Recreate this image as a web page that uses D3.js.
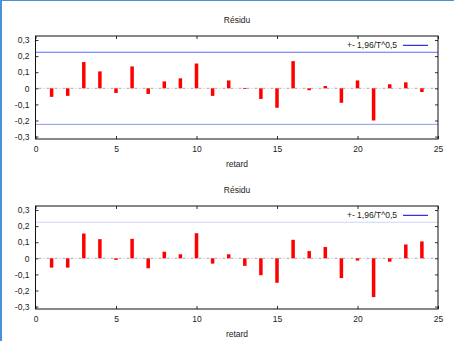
<!DOCTYPE html>
<html>
<head>
<meta charset="utf-8">
<script src="https://cdn.jsdelivr.net/npm/d3@7"></script>
<style>
  html, body { margin: 0; padding: 0; background: #fff; }
  svg { display: block; }
  text { font-family: "Liberation Sans", Arial, sans-serif; fill: #222; }
</style>
</head>
<body>
<svg id="chart" width="454" height="341"></svg>
<script>
// Lags 1..24 and residual autocorrelations for the two panels
const lags = d3.range(1, 25);
const residuA = [-0.053, -0.047, 0.163, 0.105, -0.029, 0.136, -0.035, 0.043, 0.062, 0.154,
                 -0.047, 0.049, 0.002, -0.066, -0.121, 0.169, -0.012, 0.014, -0.090, 0.049,
                 -0.200, 0.025, 0.037, -0.023];
const residuB = [-0.058, -0.058, 0.154, 0.119, -0.010, 0.121, -0.062, 0.041, 0.025, 0.156,
                 -0.033, 0.025, -0.047, -0.105, -0.152, 0.115, 0.045, 0.070, -0.123, -0.014,
                 -0.241, -0.021, 0.086, 0.105];
const bound = 0.224;               // 1.96 / sqrt(T)
const yTicks = [-0.3, -0.2, -0.1, 0, 0.1, 0.2, 0.3];
const xTicks = [0, 5, 10, 15, 20, 25];
const title = "Résidu";
const xLabel = "retard";
const legendLabel = "+- 1,96/T^0,5";

const svg = d3.select("#chart");

// page border (left and top)
svg.append("rect").attr("x", 0).attr("y", 0).attr("width", 2).attr("height", 341).attr("fill", "#4a8fd8");
svg.append("rect").attr("x", 0).attr("y", 0).attr("width", 454).attr("height", 1).attr("fill", "#4a8fd8");

const fmt = v => (v === 0 ? "0" : d3.format(".1f")(v).replace(".", ",").replace("−", "-"));

function panel(top, values, upperColor, lowerColor) {
  const left = 35.5, right = 438, h = 103;
  const x = d3.scaleLinear().domain([0, 25]).range([left, right]);
  const y = d3.scaleLinear().domain([-0.315, 0.325]).range([top + h, top]);
  const g = svg.append("g");

  // title and axis label
  g.append("text").attr("x", 237).attr("y", top - 13).attr("text-anchor", "middle")
    .attr("font-size", 8.5).text(title);
  g.append("text").attr("x", 237).attr("y", top + h + 28).attr("text-anchor", "middle")
    .attr("font-size", 8.5).text(xLabel);

  // confidence bounds
  if (upperColor) g.append("line").attr("x1", left).attr("x2", right)
    .attr("y1", y(bound)).attr("y2", y(bound)).attr("stroke", upperColor).attr("stroke-width", 1);
  if (lowerColor) g.append("line").attr("x1", left).attr("x2", right)
    .attr("y1", y(-bound)).attr("y2", y(-bound)).attr("stroke", lowerColor).attr("stroke-width", 1);

  // zero line
  g.append("line").attr("x1", left).attr("x2", right)
    .attr("y1", y(0)).attr("y2", y(0))
    .attr("stroke", "#999").attr("stroke-width", 0.8).attr("stroke-dasharray", "1,2,3,2");

  // bars
  g.selectAll("rect.bar").data(values).join("rect").attr("class", "bar")
    .attr("x", (d, i) => x(lags[i]) - 1.75)
    .attr("width", 3.5)
    .attr("y", d => y(Math.max(0, d)))
    .attr("height", d => Math.max(0.8, Math.abs(y(d) - y(0))))
    .attr("fill", "#ff0000");

  // axes with inward ticks, mirrored
  const yl = g.append("g").attr("transform", `translate(${left},0)`)
    .call(d3.axisLeft(y).tickValues(yTicks).tickSize(-3).tickPadding(6).tickFormat(fmt));
  const yr = g.append("g").attr("transform", `translate(${right},0)`)
    .call(d3.axisRight(y).tickValues(yTicks).tickSize(-3).tickFormat(""));
  const xb = g.append("g").attr("transform", `translate(0,${top + h})`)
    .call(d3.axisBottom(x).tickValues(xTicks).tickSize(-3).tickPadding(7).tickFormat(d3.format("d")));
  const xt = g.append("g").attr("transform", `translate(0,${top})`)
    .call(d3.axisTop(x).tickValues(xTicks).tickSize(-3).tickFormat(""));
  [yl, yr, xb, xt].forEach(a => {
    a.select(".domain").remove();
    a.selectAll("line").attr("stroke", "#333");
    a.selectAll("text").attr("font-size", 8.5).attr("font-family", "Liberation Sans, Arial, sans-serif").attr("fill", "#222");
  });

  // frame
  g.append("rect").attr("x", left).attr("y", top).attr("width", right - left).attr("height", h)
    .attr("fill", "none").attr("stroke", "#111").attr("stroke-width", 1);

  // legend
  g.append("text").attr("x", 397).attr("y", top + 12).attr("text-anchor", "end")
    .attr("font-size", 8.5).text(legendLabel);
  g.append("line").attr("x1", 403).attr("x2", 428).attr("y1", top + 9.3).attr("y2", top + 9.3)
    .attr("stroke", "#0000dd").attr("stroke-width", 1);
}

panel(36, residuA, "#5b6cff", "#8f97f0");
panel(206, residuB, "#cdd4fb", null);
</script>
</body>
</html>
